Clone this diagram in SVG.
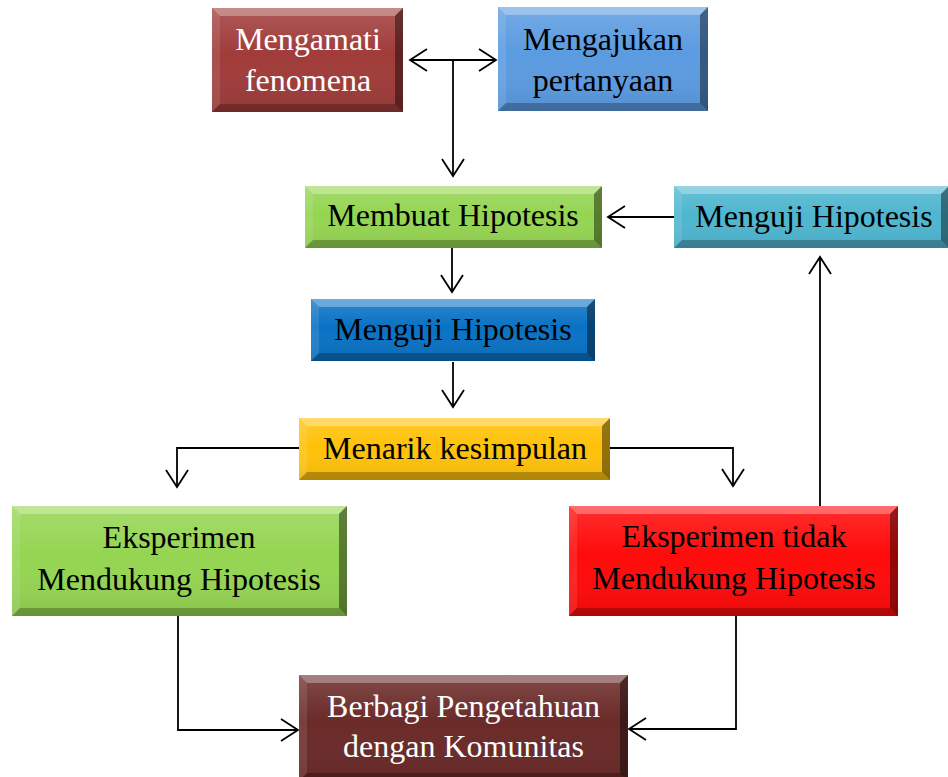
<svg xmlns="http://www.w3.org/2000/svg" width="948" height="777" viewBox="0 0 948 777">
<defs>
<linearGradient id="shine" x1="0" y1="0" x2="0" y2="1">
<stop offset="0" stop-color="#ffffff" stop-opacity="0.15"/>
<stop offset="0.45" stop-color="#ffffff" stop-opacity="0"/>
<stop offset="1" stop-color="#000000" stop-opacity="0.08"/>
</linearGradient>
<marker id="ah" viewBox="-19 -13 21 26" refX="0" refY="0" markerWidth="21" markerHeight="26" markerUnits="userSpaceOnUse" orient="auto-start-reverse">
<path d="M-17,-11 L0,0 L-17,11" fill="none" stroke="#000" stroke-width="1.8"/>
</marker>
</defs>
<style>
.bt{fill:#fff;fill-opacity:0.3}
.bl{fill:#fff;fill-opacity:0.1}
.br{fill:#000;fill-opacity:0.42}
.bb{fill:#000;fill-opacity:0.25}
.ov{fill:url(#shine)}
.t{font-family:"Liberation Serif","Times New Roman",serif;font-size:32px;text-anchor:middle;fill:#000}
.w{fill:#fff}
.c{fill:none;stroke:#000;stroke-width:1.8}
</style>
<rect width="948" height="777" fill="#fff"/>
<g id="connectors">
<path class="c" d="M410,60 L496,60" marker-start="url(#ah)" marker-end="url(#ah)"/>
<path class="c" d="M453,60 L453,176" marker-end="url(#ah)"/>
<path class="c" d="M674,217 L608,217" marker-end="url(#ah)"/>
<path class="c" d="M452,248 L452,292" marker-end="url(#ah)"/>
<path class="c" d="M453,362 L453,407" marker-end="url(#ah)"/>
<path class="c" d="M299,448 L177,448 L177,487" marker-end="url(#ah)"/>
<path class="c" d="M610,448 L733,448 L733,486" marker-end="url(#ah)"/>
<path class="c" d="M820,506 L820,257" marker-end="url(#ah)"/>
<path class="c" d="M178,616 L178,730 L298,730" marker-end="url(#ah)"/>
<path class="c" d="M736,616 L736,729 L629,729" marker-end="url(#ah)"/>
</g>
<g id="mengamati">
<rect x="212" y="8" width="191" height="104" fill="#a03c3a"/>
<rect class="ov" x="212" y="8" width="191" height="104"/>
<polygon class="bt" points="212,8 403,8 395,16 220,16"/>
<polygon class="bl" points="212,8 220,16 220,104 212,112"/>
<polygon class="br" points="403,8 403,112 395,104 395,16"/>
<polygon class="bb" points="212,112 220,104 395,104 403,112"/>
<text class="t w" x="308" y="49.5">Mengamati</text>
<text class="t w" x="308" y="91">fenomena</text>
</g>
<g id="mengajukan">
<rect x="498" y="7" width="210" height="104" fill="#5b9be0"/>
<rect class="ov" x="498" y="7" width="210" height="104"/>
<polygon class="bt" points="498,7 708,7 700,15 506,15"/>
<polygon class="bl" points="498,7 506,15 506,103 498,111"/>
<polygon class="br" points="708,7 708,111 700,103 700,15"/>
<polygon class="bb" points="498,111 506,103 700,103 708,111"/>
<text class="t" x="603" y="49.5">Mengajukan</text>
<text class="t" x="603" y="91">pertanyaan</text>
</g>
<g id="membuat">
<rect x="305" y="186" width="297" height="62" fill="#95d552"/>
<rect class="ov" x="305" y="186" width="297" height="62"/>
<polygon class="bt" points="305,186 602,186 594,194 313,194"/>
<polygon class="bl" points="305,186 313,194 313,240 305,248"/>
<polygon class="br" points="602,186 602,248 594,240 594,194"/>
<polygon class="bb" points="305,248 313,240 594,240 602,248"/>
<text class="t" x="453" y="226">Membuat Hipotesis</text>
</g>
<g id="menguji-cyan">
<rect x="674" y="186" width="275" height="62" fill="#4fb6d0"/>
<rect class="ov" x="674" y="186" width="275" height="62"/>
<polygon class="bt" points="674,186 949,186 941,194 682,194"/>
<polygon class="bl" points="674,186 682,194 682,240 674,248"/>
<polygon class="br" points="949,186 949,248 941,240 941,194"/>
<polygon class="bb" points="674,248 682,240 941,240 949,248"/>
<text class="t" x="814" y="227">Menguji Hipotesis</text>
</g>
<g id="menguji-blue">
<rect x="311" y="299" width="284" height="62" fill="#0a72c4"/>
<rect class="ov" x="311" y="299" width="284" height="62"/>
<polygon class="bt" points="311,299 595,299 587,307 319,307"/>
<polygon class="bl" points="311,299 319,307 319,353 311,361"/>
<polygon class="br" points="595,299 595,361 587,353 587,307"/>
<polygon class="bb" points="311,361 319,353 587,353 595,361"/>
<text class="t" x="453" y="340">Menguji Hipotesis</text>
</g>
<g id="menarik">
<rect x="299" y="418" width="311" height="62" fill="#ffc20a"/>
<rect class="ov" x="299" y="418" width="311" height="62"/>
<polygon class="bt" points="299,418 610,418 602,426 307,426"/>
<polygon class="bl" points="299,418 307,426 307,472 299,480"/>
<polygon class="br" points="610,418 610,480 602,472 602,426"/>
<polygon class="bb" points="299,480 307,472 602,472 610,480"/>
<text class="t" x="455" y="459">Menarik kesimpulan</text>
</g>
<g id="eksperimen-mendukung">
<rect x="12" y="506" width="335" height="110" fill="#95d552"/>
<rect class="ov" x="12" y="506" width="335" height="110"/>
<polygon class="bt" points="12,506 347,506 339,514 20,514"/>
<polygon class="bl" points="12,506 20,514 20,608 12,616"/>
<polygon class="br" points="347,506 347,616 339,608 339,514"/>
<polygon class="bb" points="12,616 20,608 339,608 347,616"/>
<text class="t" x="179" y="548">Eksperimen</text>
<text class="t" x="179" y="589.5">Mendukung Hipotesis</text>
</g>
<g id="eksperimen-tidak">
<rect x="569" y="506" width="329" height="110" fill="#ff0a0a"/>
<rect class="ov" x="569" y="506" width="329" height="110"/>
<polygon class="bt" points="569,506 898,506 890,514 577,514"/>
<polygon class="bl" points="569,506 577,514 577,608 569,616"/>
<polygon class="br" points="898,506 898,616 890,608 890,514"/>
<polygon class="bb" points="569,616 577,608 890,608 898,616"/>
<text class="t" x="734" y="547">Eksperimen tidak</text>
<text class="t" x="734" y="588.5">Mendukung Hipotesis</text>
</g>
<g id="berbagi">
<rect x="299" y="675" width="329" height="106" fill="#6a2a28"/>
<rect class="ov" x="299" y="675" width="329" height="106"/>
<polygon class="bt" points="299,675 628,675 620,683 307,683"/>
<polygon class="bl" points="299,675 307,683 307,773 299,781"/>
<polygon class="br" points="628,675 628,781 620,773 620,683"/>
<polygon class="bb" points="299,781 307,773 620,773 628,781"/>
<text class="t w" x="463.5" y="717">Berbagi Pengetahuan</text>
<text class="t w" x="463.5" y="757">dengan Komunitas</text>
</g>
</svg>
